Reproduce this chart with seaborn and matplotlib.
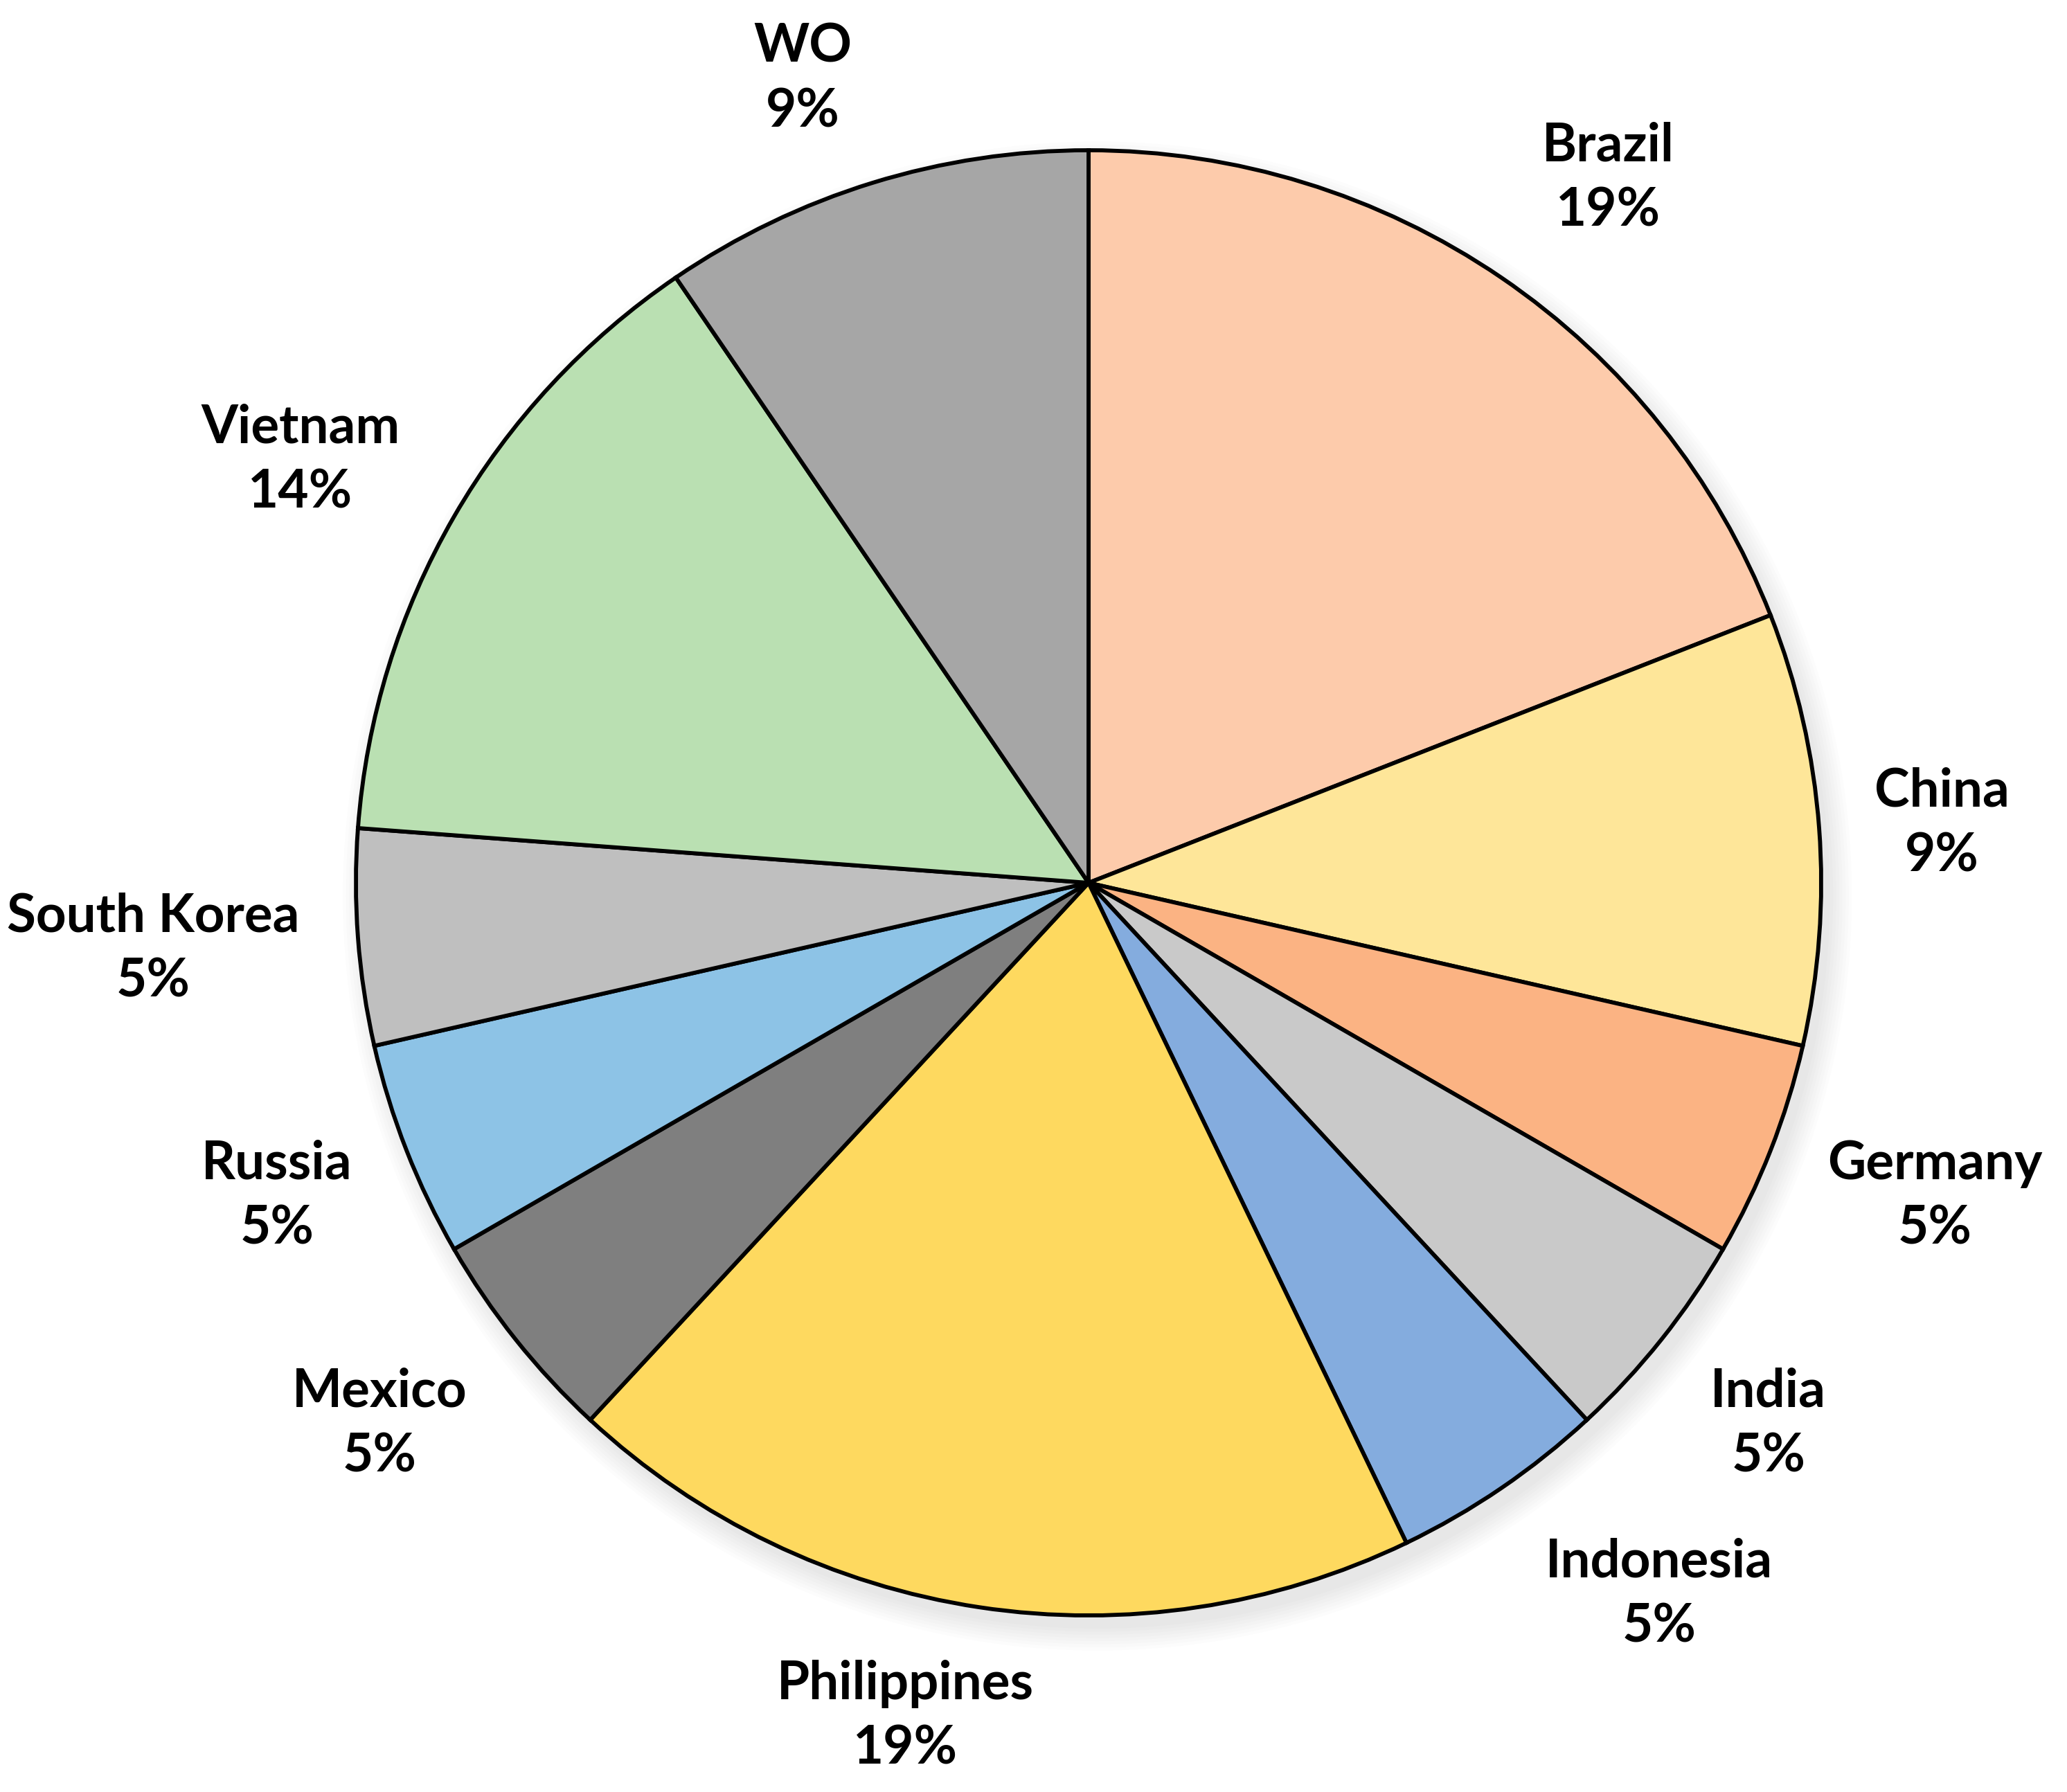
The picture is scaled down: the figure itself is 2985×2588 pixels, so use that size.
import matplotlib
matplotlib.use("Agg")
import matplotlib.pyplot as plt
import seaborn as sns
import numpy as np
from matplotlib.patches import Circle

countries = ["Brazil", "China", "Germany", "India", "Indonesia", "Philippines",
             "Mexico", "Russia", "South Korea", "Vietnam", "WO"]
counts = [4, 2, 1, 1, 1, 4, 1, 1, 1, 3, 2]
pct_labels = ["19%", "9%", "5%", "5%", "5%", "19%", "5%", "5%", "5%", "14%", "9%"]
colors = ["#FDCBAB", "#FEE699", "#FBB383", "#C9C9C9", "#84ACDE", "#FED95F",
          "#7F7F7F", "#8DC3E6", "#BFBFBF", "#BAE0B2", "#A6A6A6"]

# label anchor points (unit-radius coordinates)
label_x = [0.709, 1.165, 1.155, 0.928, 0.779, -0.250, -0.968, -1.108, -1.277, -1.076, -0.390]
label_y = [0.962, 0.081, -0.428, -0.739, -0.971, -1.138, -0.739, -0.428, -0.090, 0.577, 1.097]

sns.set_theme(style="white")
plt.rcParams['font.family'] = ['Lato', 'DejaVu Sans']

W, H = 2985, 2588
fig = plt.figure(figsize=(W / 100, H / 100), dpi=100)
ax = fig.add_axes([0, 0, 1, 1])

cx, cy, R = 1572, 1275, 1058
ax.set_xlim(-cx / R, (W - cx) / R)
ax.set_ylim(-(H - cy) / R, cy / R)

# soft shadow
for i in range(8):
    r = 1.0 + 0.03 * (1 - i / 7)
    ax.add_patch(Circle((0.012, -0.018), r, facecolor="black", alpha=0.012, edgecolor="none", zorder=0))

wedges, _ = ax.pie(counts, colors=colors, startangle=90, counterclock=False,
                   radius=1.0, center=(0, 0), frame=True,
                   wedgeprops=dict(edgecolor="black", linewidth=4.2, joinstyle="miter"))
for w in wedges:
    w.set_zorder(2)

for name, pct, x, y in zip(countries, pct_labels, label_x, label_y):
    ax.text(x, y, f"{name}\n{pct}", ha="center", va="center", fontsize=55,
            fontweight="bold", color="black", linespacing=1.42, zorder=3)

ax.set_xlim(-cx / R, (W - cx) / R)
ax.set_ylim(-(H - cy) / R, cy / R)
ax.set_aspect("equal")
ax.axis("off")
fig.savefig("out.png", dpi=100, facecolor="white")
